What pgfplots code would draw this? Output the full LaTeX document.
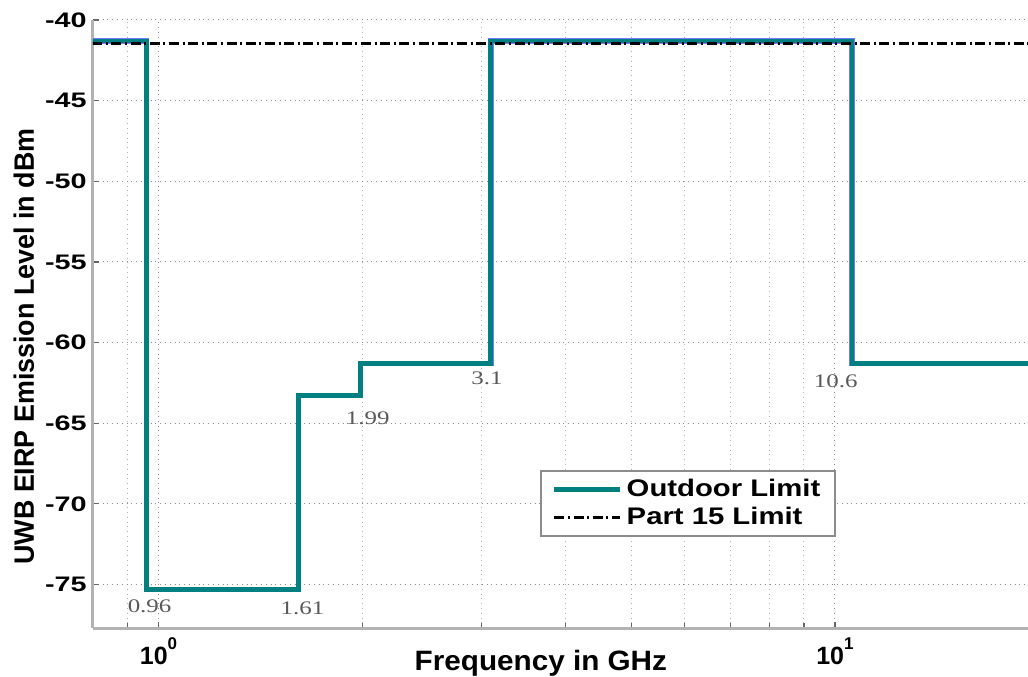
\documentclass[border=0pt]{standalone}
\usepackage{fontspec}
\setmainfont{Liberation Sans}
\newfontfamily\serif{Liberation Serif}
\usepackage{graphicx}
\usepackage{pgfplots}
\pgfplotsset{compat=1.18}
\definecolor{tealc}{RGB}{0,128,128}
\definecolor{blueh}{RGB}{120,120,255}
\newcommand\sx[2]{\scalebox{#1}[1]{#2}}
\newcommand\tk[1]{\sx{1.37}{#1}}
\newcommand\dec[1]{\textbf{10}\raisebox{7.5pt}{\fontsize{8.5}{9}\selectfont\bfseries #1}}
\newcommand\ann[1]{{\serif\fontsize{9.6}{10}\selectfont\sx{1.3}{#1}}}
\begin{document}
\begin{tikzpicture}
\begin{axis}[
  scale only axis, width=467.5pt, height=304pt,
  xmode=log, xmin=0.8, xmax=19.3, ymin=-77.7, ymax=-40,
  axis x line*=bottom, axis y line*=left,
  axis line style={draw=black!30, line width=1.5pt},
  xtick={1,10}, xticklabels={\dec{0},\dec{1}},
  minor xtick={0.9,2,3,4,5,6,7,8,9},
  ytick={-75,-70,-65,-60,-55,-50,-45,-40},
  yticklabels={\tk{-75},\tk{-70},\tk{-65},\tk{-60},\tk{-55},\tk{-50},\tk{-45},\tk{-40}},
  grid=both,
  major grid style={dotted, black!45, line width=0.5pt},
  minor grid style={dotted, black!30, line width=0.5pt},
  tick style={black!60, line width=0.6pt},
  major tick length=3pt, minor tick length=2.5pt,
  tick align=inside,
  xticklabel style={font=\fontsize{12.5}{13}\selectfont\bfseries, inner sep=0pt, anchor=north, yshift=-4.5pt},
  yticklabel style={font=\fontsize{10.5}{12}\selectfont\bfseries, inner sep=0pt, anchor=east, xshift=-3pt},
  xlabel={\sx{1.06}{Frequency in GHz}},
  xlabel style={font=\fontsize{14}{16}\selectfont\bfseries, inner sep=0pt, at={(axis description cs:0.479,-0.0362)}, anchor=north},
  ylabel={\sx{0.96}{UWB EIRP Emission Level in dBm}},
  ylabel style={font=\fontsize{14}{16}\selectfont\bfseries, inner sep=0pt, at={(axis description cs:-0.0738,0.463)}, anchor=center},
  legend style={at={(axis description cs:0.478,0.26)}, anchor=north west, draw=black!45, line width=1pt,
    font=\fontsize{12}{14}\selectfont\bfseries, inner xsep=5.5pt, inner ysep=2pt,
    nodes={inner sep=2pt}, row sep=0pt,
    /tikz/every even column/.append style={column sep=5pt}},
  legend cell align=left,
  legend image code/.code={\draw[#1] (0pt,0pt) -- (27.5pt,0pt); \path (0pt,0pt) -- (33pt,0pt);},
]
\addplot[const plot, blueh, line width=2.7pt, forget plot] coordinates {
  (0.7,-41.3) (0.96,-75.3) (1.61,-63.3) (1.99,-61.3) (3.1,-41.3) (10.6,-61.3) (22,-61.3)};
\addplot[const plot, tealc, line width=2.4pt] coordinates {
  (0.7,-41.3) (0.96,-75.3) (1.61,-63.3) (1.99,-61.3) (3.1,-41.3) (10.6,-61.3) (22,-61.3)};
\addlegendentry{\sx{1.22}{Outdoor Limit}}
\addplot[black, line width=1.5pt, dash pattern=on 5pt off 1.8pt on 1pt off 1.8pt] coordinates {
  (0.7,-41.45) (22,-41.45)};
\addlegendentry{\sx{1.22}{Part 15 Limit}}
\node[text=black!65, inner sep=0pt] at (axis cs:0.970,-76.37) {\ann{0.96}};
\node[text=black!65, inner sep=0pt] at (axis cs:1.633,-76.5) {\ann{1.61}};
\node[text=black!65, inner sep=0pt] at (axis cs:2.038,-64.7) {\ann{1.99}};
\node[text=black!65, inner sep=0pt] at (axis cs:3.06,-62.2) {\ann{3.1}};
\node[text=black!65, inner sep=0pt] at (axis cs:10.03,-62.4) {\ann{10.6}};
\end{axis}
\pgfresetboundingbox
\path[use as bounding box] ([xshift=-46.5pt,yshift=-24pt]current axis.south west) rectangle ([yshift=10pt]current axis.north east);
\end{tikzpicture}
\end{document}
